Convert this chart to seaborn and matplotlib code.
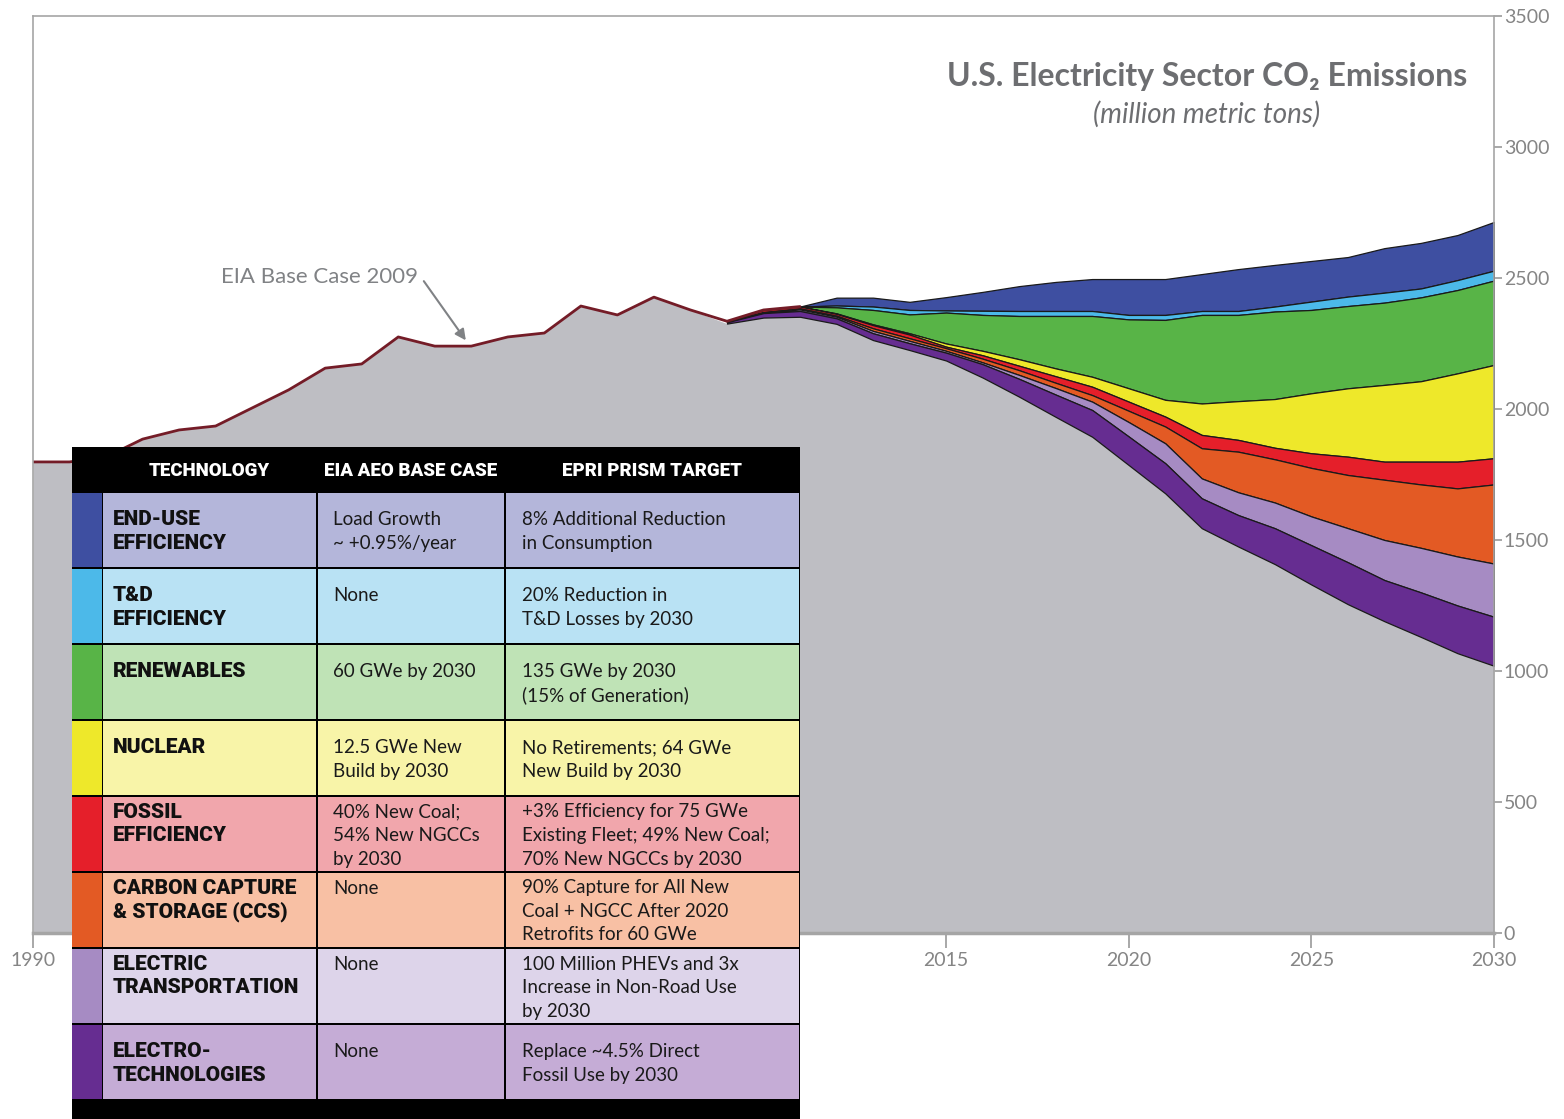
import matplotlib
matplotlib.use('Agg')
import matplotlib.pyplot as plt
from matplotlib.patches import Rectangle
import seaborn as sns

# historical emissions, EIA base case (million metric tons)
hist_years = list(range(1990, 2009))
hist_emis = [1798, 1798, 1817, 1885, 1920, 1935, 2004, 2073, 2156, 2172,
             2275, 2240, 2240, 2275, 2290, 2393, 2359, 2427, 2378]

# projection: remaining emissions after each technology is applied
proj_years = list(range(2009, 2031))
total = [2335, 2378, 2391, 2425, 2425, 2409, 2427, 2447, 2469, 2485, 2496,
         2496, 2496, 2515, 2534, 2550, 2565, 2580, 2614, 2634, 2664, 2714]
after_end_use = [2335, 2378, 2391, 2395, 2391, 2378, 2376, 2375, 2374, 2374, 2374,
                 2359, 2359, 2374, 2374, 2391, 2410, 2429, 2444, 2460, 2492, 2528]
after_td = [2335, 2378, 2391, 2388, 2378, 2361, 2368, 2359, 2355, 2355, 2355,
            2342, 2340, 2359, 2359, 2372, 2378, 2393, 2406, 2426, 2454, 2490]
after_renewables = [2335, 2378, 2391, 2365, 2323, 2289, 2250, 2222, 2190, 2155, 2123,
                    2079, 2035, 2021, 2030, 2038, 2060, 2079, 2092, 2106, 2136, 2168]
after_nuclear = [2335, 2378, 2391, 2363, 2320, 2284, 2238, 2205, 2165, 2125, 2085,
                 2028, 1971, 1901, 1882, 1852, 1831, 1818, 1799, 1799, 1799, 1812]
after_fossil = [2333, 2370, 2384, 2356, 2308, 2270, 2232, 2192, 2148, 2100, 2053,
                1993, 1933, 1850, 1837, 1808, 1775, 1748, 1730, 1712, 1697, 1712]
after_ccs = [2332, 2368, 2380, 2352, 2298, 2260, 2222, 2178, 2130, 2080, 2028,
             1950, 1869, 1735, 1682, 1643, 1590, 1545, 1500, 1470, 1437, 1410]
after_transport = [2331, 2366, 2374, 2346, 2289, 2251, 2215, 2171, 2115, 2055, 1996,
                   1895, 1793, 1659, 1595, 1545, 1480, 1415, 1347, 1300, 1250, 1207]
after_electrotech = [2326, 2349, 2352, 2325, 2263, 2225, 2185, 2120, 2047, 1970, 1894,
                     1786, 1678, 1545, 1475, 1408, 1330, 1255, 1190, 1130, 1068, 1020]

x_ticks = list(range(1990, 2031, 5))
x_labels = ['1990', '', '', '', '', '2015', '2020', '2025', '2030']  # the rest sit under the table
y_ticks = list(range(0, 3501, 500))

# table text
headers = ['TECHNOLOGY', 'EIA AEO BASE CASE', 'EPRI PRISM TARGET']
tech_names = ['END-USE\nEFFICIENCY', 'T&D\nEFFICIENCY', 'RENEWABLES', 'NUCLEAR',
              'FOSSIL\nEFFICIENCY', 'CARBON CAPTURE\n& STORAGE (CCS)',
              'ELECTRIC\nTRANSPORTATION', 'ELECTRO-\nTECHNOLOGIES']
base_case = ['Load Growth\n~ +0.95%/year', 'None', '60 GWe by 2030',
             '12.5 GWe New\nBuild by 2030', '40% New Coal;\n54% New NGCCs\nby 2030',
             'None', 'None', 'None']
prism_target = ['8% Additional Reduction\nin Consumption',
                '20% Reduction in\nT&D Losses by 2030',
                '135 GWe by 2030\n(15% of Generation)',
                'No Retirements; 64 GWe\nNew Build by 2030',
                '+3% Efficiency for 75 GWe\nExisting Fleet; 49% New Coal;\n70% New NGCCs by 2030',
                '90% Capture for All New\nCoal + NGCC After 2020\nRetrofits for 60 GWe',
                '100 Million PHEVs and 3x\nIncrease in Non-Road Use\nby 2030',
                'Replace ~4.5% Direct\nFossil Use by 2030']

# colours: strong (chart/strip) and pale (table cells)
strong = ['#3E4FA1', '#4CB9E9', '#58B447', '#EEE82A', '#E51F2A', '#E35A24', '#A68BC3', '#662D91']
pale = ['#B4B6DA', '#B9E2F4', '#BFE3B6', '#F8F4A8', '#F1A6AC', '#F8C0A4', '#DDD4EA', '#C5ACD6']
gray_fill = '#BEBEC3'
txt_gray = '#6D6E71'

sns.set_theme(style='white')
plt.rcParams['font.family'] = ['Lato', 'DejaVu Sans']
heavy = ['Roboto', 'DejaVu Sans']

W, H = 1564, 1119
fig = plt.figure(figsize=(W / 100, H / 100), dpi=100)
ax = fig.add_axes([33 / W, 1 - 933 / H, (1494 - 33) / W, (933 - 16) / H])

# base gray area
all_years = hist_years + proj_years
ax.fill_between(all_years, 0, hist_emis + after_electrotech, color=gray_fill, lw=0)

# stacked wedges, in table order from the top
bounds = [total, after_end_use, after_td, after_renewables, after_nuclear,
          after_fossil, after_ccs, after_transport, after_electrotech]
for i in range(8):
    ax.fill_between(proj_years, bounds[i + 1], bounds[i], facecolor=strong[i],
                    edgecolor='#1a1a1a', lw=0.9)

# EIA base case history line
sns.lineplot(x=hist_years + proj_years[:3], y=hist_emis + total[:3],
             color='#741C27', lw=2, ax=ax)

ax.set_xlim(1990, 2030)
ax.set_ylim(0, 3500)
ax.set_xticks(x_ticks)
ax.set_xticklabels(x_labels)
ax.set_yticks(y_ticks)
ax.yaxis.tick_right()
ax.tick_params(axis='y', direction='out', length=6, width=1.2, color='#9A9A9A',
               labelcolor='#858585', labelsize=14, pad=1, right=True, left=False)
ax.tick_params(axis='x', direction='out', length=11, width=1.2, color='#9A9A9A',
               labelcolor='#858585', labelsize=14, pad=3, bottom=True)
for side, sp in ax.spines.items():
    sp.set_color('#A5A5A5')
    sp.set_linewidth(1.2)
ax.spines['bottom'].set_linewidth(2.5)
ax.set_xlabel('')
ax.set_ylabel('')

ax.text(0.8036, 0.9335, 'U.S. Electricity Sector CO₂ Emissions', transform=ax.transAxes,
        ha='center', va='center', fontsize=23, fontweight='bold', color=txt_gray)
ax.text(0.8036, 0.893, '(million metric tons)', transform=ax.transAxes,
        ha='center', va='center', fontsize=20, style='italic', color=txt_gray)

ax.text(2000.55, 2504, 'EIA Base Case 2009', ha='right', va='center',
        fontsize=16, color='#808285')
ax.annotate('', xy=(2001.85, 2262), xytext=(2000.7, 2488),
            arrowprops=dict(arrowstyle='-|>', color='#808285', lw=1.5,
                            shrinkA=0, shrinkB=0, mutation_scale=16))

# table overlay, in pixel coordinates of the figure
tax = fig.add_axes([0, 0, 1, 1], zorder=5)
tax.set_xlim(0, W)
tax.set_ylim(H, 0)
tax.axis('off')
tax.patch.set_alpha(0)

x0, x_strip, c1, c2, x1 = 72, 102, 317, 505, 800
top, head_h, row_h = 447, 45, 76
tax.add_patch(Rectangle((x0, top), x1 - x0, H - top, color='black', lw=0))
for x_c, label in zip([(x_strip + c1) / 2, (c1 + c2) / 2, (c2 + x1) / 2], headers):
    tax.text(x_c, top + head_h / 2 + 1, label, ha='center', va='center', color='white',
             fontsize=13.5, fontweight='black', family=heavy)

line_h = 23.5
for i in range(8):
    y0 = top + head_h + i * row_h
    g = 1.4
    tax.add_patch(Rectangle((x0, y0 + g), x_strip - x0 - 0.5, row_h - 2 * g, color=strong[i], lw=0))
    for a, b in [(x_strip + 0.5, c1 - g), (c1 + g, c2 - g), (c2 + g, x1 - 1)]:
        tax.add_patch(Rectangle((a, y0 + g), b - a, row_h - 2 * g, color=pale[i], lw=0))
    cells = [tech_names[i], base_case[i], prism_target[i]]
    n_max = max(c.count('\n') + 1 for c in cells)
    first = y0 + row_h / 2 - (n_max - 1) * line_h / 2
    for k, (xt, cell) in enumerate(zip([113, 333, 522], cells)):
        for j, line in enumerate(cell.split('\n')):
            if k == 0:
                tax.text(xt, first + j * line_h + 7, line, ha='left', va='baseline',
                         fontsize=15, fontweight='black', family=heavy, color='#111111')
            else:
                tax.text(xt, first + j * line_h + 7, line, ha='left', va='baseline',
                         fontsize=13.5, color='#1a1a1a')

fig.savefig('out.png', dpi=100)
